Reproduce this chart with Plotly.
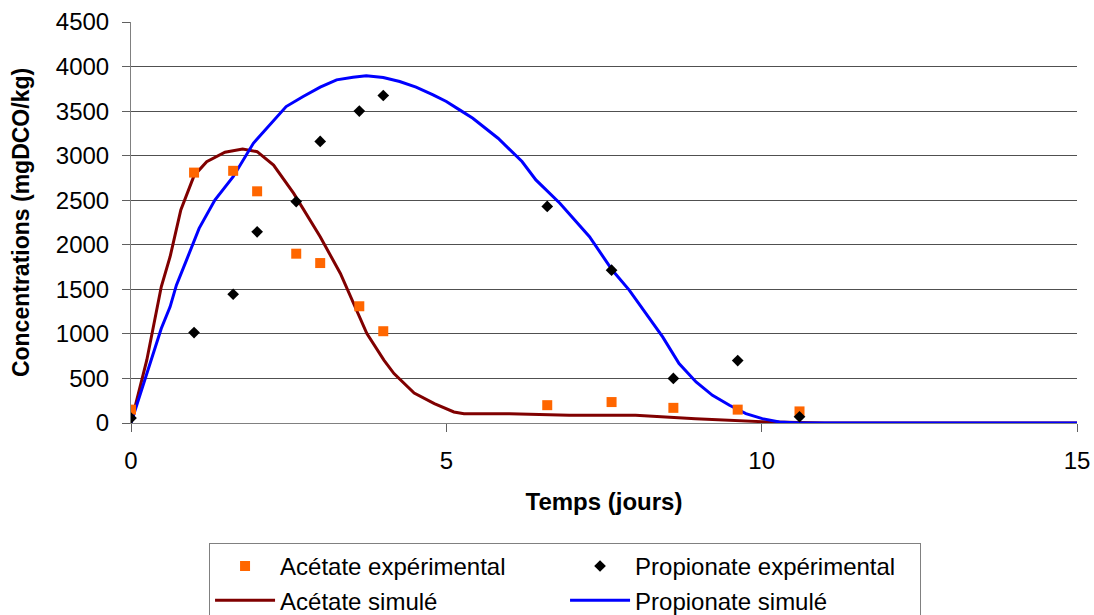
import plotly.graph_objects as go

# Simulated curves (time in days, concentration in mgDCO/kg)
t_sim_acetate = [0, 0.25, 0.48, 0.62, 0.79, 1.0, 1.2, 1.49, 1.77, 2.0, 2.26, 2.58, 3.0,
                 3.32, 3.74, 4.01, 4.17, 4.49, 4.81, 5.12, 5.28, 6.0, 6.95, 8.0, 8.95,
                 10.0, 11.0, 15.0]
c_sim_acetate = [0, 705, 1529, 1866, 2390, 2776, 2933, 3038, 3075, 3045, 2895, 2577, 2090,
                 1678, 1003, 705, 555, 337, 217, 124, 105, 105, 86, 86, 49,
                 15, 0, 0]

t_sim_propionate = [0, 0.25, 0.48, 0.62, 0.72, 0.88, 1.08, 1.33, 1.62, 1.94, 2.15, 2.46,
                    2.73, 3.0, 3.26, 3.52, 3.73, 4.0, 4.26, 4.52, 4.79, 5.0, 5.21, 5.42,
                    5.82, 6.2, 6.42, 6.8, 7.27, 7.63, 7.9, 8.21, 8.43, 8.69, 8.96, 9.22,
                    9.49, 9.75, 10.01, 10.28, 10.6, 15.0]
c_sim_propionate = [0, 542, 1061, 1304, 1547, 1828, 2184, 2502, 2764, 3139, 3307, 3551,
                    3664, 3769, 3851, 3881, 3896, 3877, 3832, 3769, 3683, 3608, 3514, 3420,
                    3196, 2934, 2728, 2466, 2091, 1716, 1491, 1191, 966, 667, 461, 311,
                    199, 105, 49, 11, 0, 0]

# Experimental measurements
t_exp = [0, 1, 1.62, 2, 2.62, 3, 3.62, 4, 6.6, 7.62, 8.6, 9.62, 10.6]
c_exp_acetate = [150, 2810, 2830, 2600, 1900, 1795, 1310, 1030, 200, 235, 170, 150, 130]
c_exp_propionate = [55, 1015, 1445, 2145, 2485, 3160, 3500, 3675, 2430, 1715, 500, 700, 70]

y_ticks = [0, 500, 1000, 1500, 2000, 2500, 3000, 3500, 4000, 4500]
x_ticks = [0, 5, 10, 15]

FONT = "Liberation Sans, Arial, sans-serif"

fig = go.Figure()

fig.add_trace(go.Scatter(
    x=t_sim_acetate, y=c_sim_acetate, mode="lines", name="Acétate simulé",
    line=dict(color="#800000", width=3), legendrank=3))
fig.add_trace(go.Scatter(
    x=t_sim_propionate, y=c_sim_propionate, mode="lines", name="Propionate simulé",
    line=dict(color="#0000FF", width=3), legendrank=4))
fig.add_trace(go.Scatter(
    x=t_exp, y=c_exp_acetate, mode="markers", name="Acétate expérimental",
    marker=dict(symbol="square", size=10, color="#FF6600"), legendrank=1))
fig.add_trace(go.Scatter(
    x=t_exp, y=c_exp_propionate, mode="markers", name="Propionate expérimental",
    marker=dict(symbol="diamond", size=9, color="black"), legendrank=2))

fig.update_layout(
    width=1094, height=615,
    margin=dict(l=131, r=17, t=22, b=192, autoexpand=False),
    paper_bgcolor="white", plot_bgcolor="white",
    font=dict(family=FONT, size=24, color="black"),
    legend=dict(
        orientation="h", x=0.0825, xanchor="left", y=-0.299, yanchor="top",
        bordercolor="#808080", borderwidth=1, bgcolor="white",
        itemwidth=60, entrywidth=280, font=dict(size=24),
    ),
)

fig.update_xaxes(
    range=[0, 15], tickvals=x_ticks, ticktext=[str(v) for v in x_ticks],
    showgrid=False, zeroline=False, showline=True, linecolor="#808080", linewidth=1,
    ticks="outside", ticklen=8, tickcolor="#606060", ticklabelstandoff=8,
    title=dict(text="Temps (jours)", font=dict(size=24, weight="bold"), standoff=20),
)
fig.update_yaxes(
    range=[0, 4500], tickvals=y_ticks, ticktext=[str(v) for v in y_ticks],
    showgrid=True, gridcolor="#505050", gridwidth=1, zeroline=False,
    showline=True, linecolor="#808080", linewidth=1,
    ticks="outside", ticklen=8, tickcolor="#606060", ticklabelstandoff=8,
    title=dict(text="Concentrations (mgDCO/kg)", font=dict(size=23, weight="bold"), standoff=19),
)

fig.write_html("out.html")
